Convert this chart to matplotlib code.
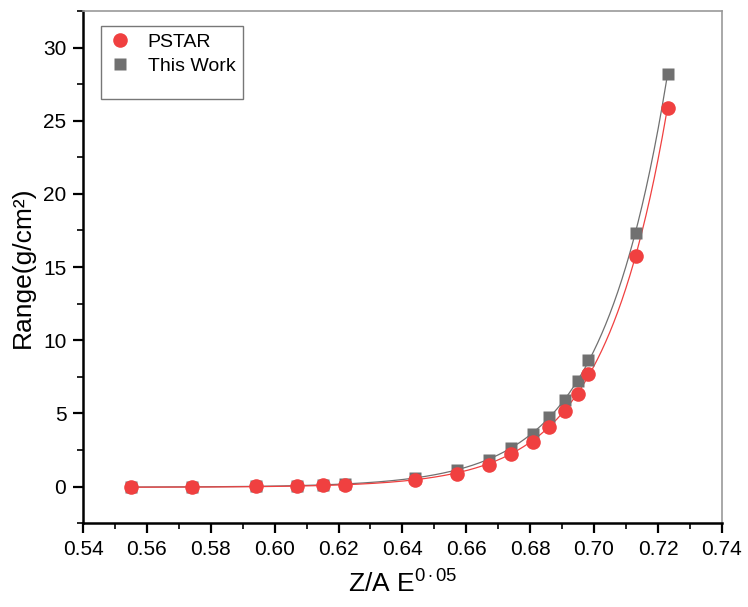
import numpy as np
import matplotlib
matplotlib.use("Agg")
import matplotlib.pyplot as plt
from matplotlib.ticker import MultipleLocator

plt.rcParams['font.family'] = ['Liberation Sans', 'DejaVu Sans']
plt.rcParams['mathtext.fontset'] = 'custom'
plt.rcParams['mathtext.rm'] = 'Liberation Sans'
plt.rcParams['mathtext.it'] = 'Liberation Sans'

x = np.array([0.555, 0.574, 0.594, 0.607, 0.615, 0.622, 0.644, 0.657, 0.667,
              0.674, 0.681, 0.686, 0.691, 0.695, 0.698, 0.713, 0.723])
pstar = np.array([0.0, 0.0, 0.02, 0.05, 0.09, 0.14, 0.48, 0.89, 1.5,
                  2.25, 3.08, 4.1, 5.2, 6.36, 7.72, 15.75, 25.9])
this_work = np.array([0.0, 0.0, 0.02, 0.06, 0.11, 0.17, 0.6, 1.15, 1.85,
                      2.67, 3.62, 4.78, 5.95, 7.25, 8.68, 17.3, 28.2])

RED = '#f04040'
GRAY = '#707070'


def exp_fit(xv, yv):
    best = None
    for b in np.linspace(5, 80, 1501):
        A = np.vstack([np.exp(b * (xv - 0.7)), np.ones_like(xv)]).T
        coef, res, *_ = np.linalg.lstsq(A, yv, rcond=None)
        r = np.sum((A @ coef - yv) ** 2)
        if best is None or r < best[0]:
            best = (r, b, coef)
    _, b, coef = best
    return lambda t: coef[0] * np.exp(b * (t - 0.7)) + coef[1]


fig = plt.figure(figsize=(7.48, 6.07), dpi=100)
ax = fig.add_axes([0.111, 0.138, 0.854, 0.844])

xx = np.linspace(x.min(), x.max(), 400)
f_t = exp_fit(x, this_work)
f_p = exp_fit(x, pstar)
ax.plot(xx, f_t(xx), color=GRAY, lw=0.9, zorder=2)
ax.plot(xx, f_p(xx), color=RED, lw=0.9, zorder=2)
ax.plot(x, this_work, 's', color=GRAY, ms=9, mec='none', label='This Work', zorder=3)
ax.plot(x, pstar, 'o', color=RED, ms=10.5, mec='none', label='PSTAR', zorder=4)

ax.set_xlim(0.54, 0.74)
ax.set_ylim(-2.5, 32.5)
ax.xaxis.set_major_locator(MultipleLocator(0.02))
ax.xaxis.set_minor_locator(MultipleLocator(0.01))
ax.yaxis.set_major_locator(MultipleLocator(5))
ax.yaxis.set_minor_locator(MultipleLocator(2.5))
ax.set_xticklabels([f'{v:.2f}' for v in ax.get_xticks()])
ax.tick_params(which='major', direction='out', length=7, width=1.6, labelsize=15, pad=5)
ax.tick_params(which='minor', direction='out', length=4, width=1.2)
ax.tick_params(top=False, right=False)

for s in ['left', 'bottom']:
    ax.spines[s].set_linewidth(1.8)
    ax.spines[s].set_color('black')
for s in ['top', 'right']:
    ax.spines[s].set_linewidth(1.2)
    ax.spines[s].set_color('#999999')

ax.set_xlabel(r'Z/A E$^{0\cdot05}$', fontsize=19, labelpad=8)
ax.set_ylabel('Range(g/cm²)', fontsize=19, labelpad=6)

handles, labels = ax.get_legend_handles_labels()
leg = ax.legend(handles[::-1], labels[::-1], loc='upper left', bbox_to_anchor=(0.028, 0.971),
                fontsize=14, frameon=True, fancybox=False, edgecolor='#555555',
                borderpad=0.4, handletextpad=0.8, labelspacing=0.3, handlelength=1.2,
                borderaxespad=0)
leg.get_frame().set_linewidth(1.0)
leg._legend_box.sep = 0
leg.set_title(' ', prop={'size': 14})
leg._legend_box._children = leg._legend_box._children[::-1]

fig.savefig('out.png', dpi=100)
